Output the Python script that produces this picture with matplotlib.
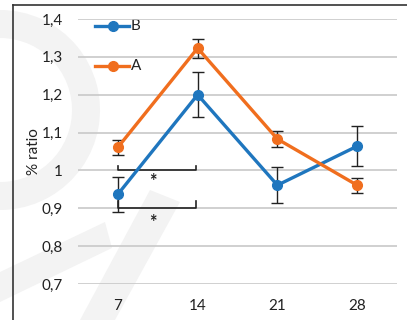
import matplotlib
matplotlib.use("Agg")
import matplotlib.pyplot as plt
from matplotlib.patches import Wedge, Polygon
from matplotlib.lines import Line2D

days = ["7", "14", "21", "28"]
b_vals = [0.937, 1.200, 0.961, 1.064]
b_err = [0.046, 0.060, 0.048, 0.053]
a_vals = [1.061, 1.323, 1.083, 0.961]
a_err = [0.020, 0.025, 0.020, 0.020]
yticks = [0.7, 0.8, 0.9, 1.0, 1.1, 1.2, 1.3, 1.4]
ytick_labels = ["0,7", "0,8", "0,9", "1", "1,1", "1,2", "1,3", "1,4"]

blue = "#1F76BE"
orange = "#F06E1E"
txt = "#222222"
FONT = ["Lato", "DejaVu Sans"]
plt.rcParams["font.family"] = FONT

W, H = 407, 320
fig = plt.figure(figsize=(W / 100, H / 100), dpi=100)

# background watermark layer in pixel coords
bg = fig.add_axes([0, 0, 1, 1], zorder=-5)
bg.set_xlim(0, W)
bg.set_ylim(H, 0)
bg.axis("off")
wm = "#f3f3f3"
bg.add_patch(Wedge((0, 110), 100, -90, 110, width=28, color=wm, lw=0))
bg.add_patch(Polygon([(150, 190), (180, 202), (115, 320), (80, 320)], closed=True, color=wm, lw=0))
bg.add_patch(Polygon([(0, 272), (105, 222), (112, 248), (0, 302)], closed=True, color=wm, lw=0))
# frame
bg.add_line(Line2D([13, 13], [5, H], color="#333333", lw=1.2))
bg.add_line(Line2D([13, W], [5, 5], color="#333333", lw=1.2))

left = 78 / W
right = 397 / W
bottom = 1 - 284 / H
top = 1 - 19 / H
ax = fig.add_axes([left, bottom, right - left, top - bottom])
ax.patch.set_alpha(0)

x = list(range(len(days)))
ax.set_xlim(-0.5, len(days) - 0.5)
ax.set_ylim(0.7, 1.4)

for spine in ax.spines.values():
    spine.set_visible(False)
ax.set_yticks(yticks)
ax.set_yticklabels(ytick_labels)
ax.yaxis.grid(True, color="#c8c8c8", lw=1.2)
ax.set_axisbelow(True)
ax.tick_params(axis="both", length=0, labelsize=11, colors=txt)
ax.tick_params(axis="y", pad=11)
ax.tick_params(axis="x", pad=11)
ax.set_xticks(x)
ax.set_xticklabels(days)

fig.text(34.5 / W, 1 - 152 / H, "% ratio", rotation=90, ha="center", va="center", fontsize=11, color=txt)

ax.errorbar(x, a_vals, yerr=a_err, fmt="none", ecolor=txt, elinewidth=1, capsize=4, capthick=1, zorder=3, clip_on=False)
ax.errorbar(x, b_vals, yerr=b_err, fmt="none", ecolor=txt, elinewidth=1, capsize=4, capthick=1, zorder=3, clip_on=False)
ax.plot(x, b_vals, color=blue, lw=2.4, marker="o", ms=7, zorder=4, clip_on=False)
ax.plot(x, a_vals, color=orange, lw=2.4, marker="o", ms=7, zorder=4, clip_on=False)

# significance brackets
ax.plot([0, 0, 0.98, 0.98], [1.011, 1.0, 1.0, 1.011], color=txt, lw=1.2, zorder=2)
ax.text(0.44, 0.972, "*", ha="center", va="center", fontsize=13, fontweight="bold", color=txt)
ax.plot([0, 0, 0.98, 0.98], [0.92, 0.9, 0.9, 0.92], color=txt, lw=1.2, zorder=2)
ax.text(0.44, 0.862, "*", ha="center", va="center", fontsize=13, fontweight="bold", color=txt)

# legend (manual in pixel coords)
for yy, col, lab in [(26, blue, "B"), (66, orange, "A")]:
    bg.add_line(Line2D([95, 129], [yy, yy], color=col, lw=2.4))
    bg.add_line(Line2D([113], [yy], color=col, marker="o", ms=7))
    bg.text(131, yy, lab, va="center", ha="left", fontsize=11, color=txt)

fig.savefig("out.png", dpi=100)
